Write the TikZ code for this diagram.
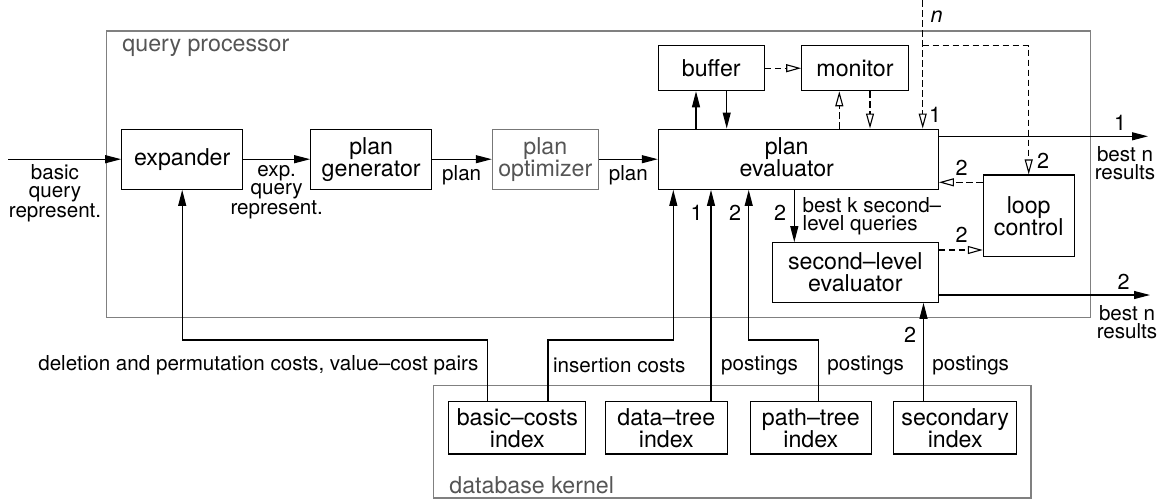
\documentclass[tikz,border=0pt]{standalone}
\usepackage{fontspec}
\setmainfont{TeX Gyre Heros}
\usetikzlibrary{arrows.meta,calc}
\definecolor{framegray}{HTML}{808080}
\definecolor{optgray}{HTML}{777777}
\definecolor{txtgray}{HTML}{555555}
\newcommand\mainf{\fontsize{11.6}{11}\selectfont}
\newcommand\smallf{\fontsize{10.3}{9}\selectfont}
\newcommand\digf{\fontsize{10.8}{11}\selectfont}
\begin{document}
\begin{tikzpicture}[x=0.5pt,y=-0.5pt,
  box/.style={draw,line width=0.55pt,inner sep=0pt,align=center,font=\mainf},
  frame/.style={draw=framegray,line width=0.55pt},
  arr/.style={line width=0.55pt,-{Triangle[length=8pt,width=4pt]}},
  darr/.style={line width=0.55pt,dash pattern=on 3.3pt off 1.7pt,-{Triangle[open,length=7.5pt,width=4pt]}},
  lbl/.style={inner sep=0pt,font=\smallf,align=center},
  dig/.style={inner sep=0pt,font=\digf}]
\useasboundingbox (0,0) rectangle (1160,499);
% frames
\draw[frame] (106.7,31) rectangle (1090.5,317.7);
\draw[frame] (433.8,385.7) rectangle (1031,498);
\node[anchor=west,font=\mainf,text=txtgray,inner sep=0pt] (qpl) at (122,47.7) {query processor};
\node[anchor=west,font=\mainf,text=txtgray,inner sep=0pt] (dbl) at (449,485) {database kernel};
% boxes
\node[box,minimum width=60.5pt,minimum height=30.15pt] (exp) at (182.2,159.2) {expander};
\node[box,minimum width=60.5pt,minimum height=30.15pt] (gen) at (371.2,159.2) {plan\\generator};
\node[box,draw=optgray,text=txtgray,minimum width=53pt,minimum height=30.15pt] (opt) at (545.3,159.2) {plan\\optimizer};
\node[box,minimum width=140pt,minimum height=30.15pt] (ev) at (798.3,159.2) {};
\node[font=\mainf,align=center,inner sep=0pt] (evt) at (786.7,157) {plan\\evaluator};
\node[box,minimum width=53pt,minimum height=22.5pt] (buf) at (711.3,68.2) {buffer};
\node[box,minimum width=53.3pt,minimum height=22.5pt] (mon) at (855,68.2) {monitor};
\node[box,minimum width=45.35pt,minimum height=40.85pt] (loop) at (1028.7,215.8) {loop\\control};
\node[box,minimum width=83pt,minimum height=29.8pt] (sec) at (855.3,272.5) {second--level\\evaluator};
\node[box,minimum width=68.5pt,minimum height=26.15pt] (basic) at (517.3,427.8) {basic--costs\\index};
\node[box,minimum width=61pt,minimum height=26.15pt] (data) at (666.3,427.8) {data--tree\\index};
\node[box,minimum width=60.75pt,minimum height=26.15pt] (path) at (810.8,427.8) {path--tree\\index};
\node[box,minimum width=61.35pt,minimum height=26.15pt] (secx) at (955.2,427.8) {secondary\\index};
% coordinates
\coordinate (in) at (8,159.2);
\coordinate (xI) at (696,0);
\coordinate (xJ) at (726.7,0);
\coordinate (xK) at (839.3,0);
\coordinate (xL) at (870,0);
\coordinate (ntop) at (922.7,0);
\coordinate (nbr) at (922.7,45.7);
\coordinate (o1) at (1148,136.3);
\coordinate (ly) at (0,182.3);
\coordinate (xd) at (794.3,0);
\coordinate (sy) at (0,250);
\coordinate (o2) at (1150,295);
\coordinate (xH) at (923.5,0);
\coordinate (r1) at (487.3,340);
\coordinate (r2) at (548,340);
\coordinate (r3) at (818.5,340);
\coordinate (xD) at (673.3,0);
\coordinate (xE) at (711,0);
\coordinate (xF) at (748.7,0);
% connectors
\draw[arr] (in) -- (exp.west);
\draw[arr] (exp.east) -- (gen.west);
\draw[arr] (gen.east) -- (opt.west);
\draw[arr] (opt.east) -- (ev.west);
\draw[arr] (ev.north -| xI) -- (buf.south -| xI);
\draw[arr] (buf.south -| xJ) -- (ev.north -| xJ);
\draw[darr] (buf.east) -- (mon.west);
\draw[darr] (ev.north -| xK) -- (mon.south -| xK);
\draw[darr] (mon.south -| xL) -- (ev.north -| xL);
\draw[darr] (ntop) -- (ev.north -| ntop);
\draw[darr] (nbr) -| (loop.north);
\draw[arr] (ev.east |- o1) -- (o1);
\draw[darr] (loop.west |- ly) -- (ev.east |- ly);
\draw[arr] (ev.south -| xd) -- (sec.north -| xd);
\draw[darr] (sec.east |- sy) -- (loop.west |- sy);
\draw[arr] (sec.east |- o2) -- (o2);
\draw[arr] (secx.north -| xH) -- (sec.south -| xH);
\draw[arr] (basic.north -| r1) -- (r1) -| (exp.south);
\draw[arr] (basic.north -| r2) -- (r2) -| (ev.south -| xD);
\draw[arr] (data.north -| xE) -- (ev.south -| xE);
\draw[arr] (path.north -| r3) -- (r3) -| (ev.south -| xF);
% labels
\node[lbl] (la) at (55,193) {basic\\query\\represent.};
\node[lbl] (lb) at (276.7,192) {exp.\\query\\represent.};
\node[lbl] (lc) at (461.7,175) {plan};
\node[lbl] (ld) at (628.3,175) {plan};
\node[dig] (d1) at (696.7,213) {1};
\node[dig] (d2) at (735,213) {2};
\node[dig,font=\digf\itshape] (nn) at (936.7,17) {n};
\node[dig] (d3) at (935,115) {1};
\node[dig] (d4) at (1043,161) {2};
\node[dig] (d5) at (1120,122.7) {1};
\node[lbl] (le) at (1125,163) {best n\\results};
\node[dig] (d6) at (961.7,168) {2};
\node[dig] (d7) at (780,213.3) {2};
\node[lbl,align=left,anchor=west] (lf) at (802.3,216) {best k second--\\level queries};
\node[dig] (d8) at (961.7,235) {2};
\node[dig] (d9) at (1123.5,281.7) {2};
\node[lbl] (lg) at (1127,322.5) {best n\\results};
\node[dig] (d10) at (910,335) {2};
\node[lbl,anchor=east] (lh) at (478.8,365) {deletion and permutation costs, value--cost pairs};
\node[lbl,anchor=west] (li) at (552.7,365) {insertion costs};
\node[lbl,anchor=west] (lj) at (720.8,365) {postings};
\node[lbl,anchor=west] (lk) at (827,365) {postings};
\node[lbl,anchor=west] (ll) at (932,365) {postings};
\end{tikzpicture}
\end{document}
